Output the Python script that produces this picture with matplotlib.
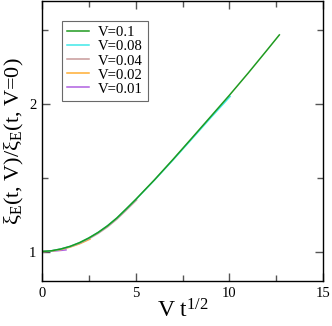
import matplotlib
matplotlib.use("Agg")
import matplotlib.pyplot as plt
from matplotlib.ticker import MultipleLocator

plt.rcParams['font.family'] = ['Liberation Serif', 'DejaVu Serif']
plt.rcParams['mathtext.fontset'] = 'custom'
plt.rcParams['mathtext.rm'] = 'Liberation Serif'
plt.rcParams['mathtext.it'] = 'Liberation Serif'
plt.rcParams['mathtext.default'] = 'rm'

labels = ["V=0.1", "V=0.08", "V=0.04", "V=0.02", "V=0.01"]
colors = ["#1f9a1f", "#40e8e8", "#c89a9a", "#ffad33", "#b060e0"]

x_v01 = [0, 0.5, 1, 1.5, 2, 2.5, 3, 3.5, 4, 4.5, 5, 6, 7, 8, 9, 10, 11, 12, 12.67]
y_v01 = [1.0, 1.005, 1.017, 1.035, 1.06, 1.092, 1.13, 1.175, 1.228, 1.29, 1.353,
         1.486, 1.626, 1.77, 1.915, 2.06, 2.21, 2.365, 2.47]

x_v008 = [0, 0.5, 1, 1.5, 2, 2.5, 3, 3.5, 4, 4.5, 5, 6, 7, 8, 9, 10.04]
y_v008 = [1.0, 1.005, 1.017, 1.035, 1.06, 1.092, 1.13, 1.175, 1.228, 1.289, 1.352,
          1.484, 1.622, 1.764, 1.907, 2.052]

x_v004 = [0, 0.5, 1, 1.5, 2, 2.5, 3, 3.5, 4, 4.5, 5.05]
y_v004 = [1.0, 1.004, 1.016, 1.032, 1.055, 1.086, 1.123, 1.167, 1.22, 1.281, 1.35]

x_v002 = [0, 0.5, 1, 1.5, 2, 2.56]
y_v002 = [1.0, 1.003, 1.013, 1.03, 1.052, 1.084]

x_v001 = [0, 0.4, 0.8, 1.28]
y_v001 = [1.0, 1.002, 1.005, 1.011]

series = [(x_v01, y_v01), (x_v008, y_v008), (x_v004, y_v004),
          (x_v002, y_v002), (x_v001, y_v001)]

fig = plt.figure(figsize=(3.32, 3.26), dpi=100)
ax = fig.add_axes([42/332, 45/326, 281/332, 280/326])

for (xs, ys), c, lab in list(zip(series, colors, labels))[::-1]:
    ax.plot(xs, ys, color=c, lw=1.1, label=lab)

ax.set_xlim(0, 15)
ax.set_ylim(0.8, 2.7)
ax.xaxis.set_major_locator(MultipleLocator(5))
ax.xaxis.set_minor_locator(MultipleLocator(2.5))
ax.yaxis.set_major_locator(MultipleLocator(1))
ax.yaxis.set_minor_locator(MultipleLocator(0.5))
ax.tick_params(which='both', direction='in', top=True, right=True,
               color='#555555', labelsize=10.5)
ax.tick_params(which='major', length=6, width=1)
ax.tick_params(which='minor', length=4, width=1)
ax.tick_params(axis='y', pad=4)
ax.tick_params(axis='x', pad=4)
for s in ax.spines.values():
    s.set_linewidth(1.0)

ax.set_xlabel(r'V t$^{1/2}$', fontsize=17, labelpad=0)
ax.set_ylabel(r'$\xi_{\rm E}$(t, V)/$\xi_{\rm E}$(t, V=0)', fontsize=16, labelpad=2)

handles, labs = ax.get_legend_handles_labels()
leg = ax.legend(handles[::-1], labs[::-1], loc='upper left',
                bbox_to_anchor=(20/281, 1 - 20/280), fontsize=10.6,
                frameon=True, fancybox=False, handlelength=1.5,
                handletextpad=0.6, labelspacing=0.05, borderpad=0.35,
                borderaxespad=0)
leg.get_frame().set_edgecolor('#444444')
leg.get_frame().set_linewidth(0.8)

fig.savefig("out.png", dpi=100)
